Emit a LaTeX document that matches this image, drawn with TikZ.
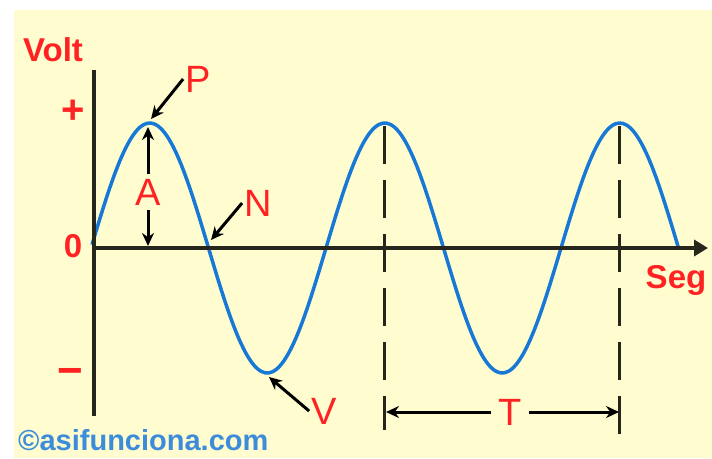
\documentclass[tikz,border=0pt]{standalone}
\usepackage{fontspec}
\setmainfont{Liberation Sans}
\usetikzlibrary{arrows.meta}

\definecolor{paper}{HTML}{FFFDD0}
\definecolor{axisgray}{HTML}{26261C}
\definecolor{waveblue}{HTML}{1778D6}
\definecolor{signred}{HTML}{FF2222}
\definecolor{creditblue}{HTML}{3C8CDB}

\begin{document}
\begin{tikzpicture}[
    x=1pt,
    y=-1pt,
    axis/.style={
        line width=4pt,
        draw=axisgray
    },
    wave/.style={
        line width=3.5pt,
        draw=waveblue
    },
    guide/.style={
        line width=3pt,
        draw=axisgray,
        dash pattern=on 38pt off 16pt
    },
    pointer/.style={
        -{Stealth[length=13pt,width=12pt]},
        line width=3pt,
        draw=black
    },
    redlabel/.style={
        text=signred,
        font=\fontsize{38}{38}\selectfont,
        inner sep=2pt
    },
    boldlabel/.style={
        text=signred,
        font=\fontsize{33}{33}\selectfont\bfseries,
        inner sep=1pt
    },
    credit/.style={
        text=creditblue,
        font=\fontsize{29}{29}\selectfont\bfseries,
        inner sep=0pt
    }
]

\useasboundingbox (0,0) rectangle (712,458);
\fill[paper] (14,10) rectangle (712,458);

% signal
\draw[wave] plot[domain=92:678, samples=160, smooth]
    (\x, {248-125*sin((\x-91)/235*360)});

% axes
\coordinate (origin) at (94,248);
\coordinate (ytop) at (94,70);
\coordinate (ybot) at (94,416);
\coordinate (xend) at (708,248);

\draw[axis] (ytop) -- (ybot);
\draw[axis, -{Triangle[length=14pt,width=16pt]}] (origin) -- (xend);

% period guides
\coordinate (peakb) at (384,126);
\coordinate (peakc) at (619,126);
\coordinate (footb) at (384,430);
\coordinate (footc) at (619,440);

\draw[guide] (peakb) -- (footb);
\draw[guide] (peakc) -- (footc);

% axis labels
\node[boldlabel] (volt) at (53,50) {Volt};
\node[boldlabel, font=\fontsize{40}{40}\selectfont\bfseries] (plus) at (73,112) {+};
\node[boldlabel] (zero) at (73,246) {0};
\node[boldlabel, font=\fontsize{44}{44}\selectfont\bfseries] (minus) at (70,377) {−};
\node[boldlabel] (seg) at (676,280) {Seg};

% peak, node, valley
\coordinate (ptip) at (151,119);
\coordinate (ntip) at (211,240);
\coordinate (vtip) at (269,377);

\node[redlabel] (peak) at (198,79) {P};
\node[redlabel] (cross) at (258,203) {N};
\node[redlabel] (valley) at (324,411) {V};

\draw[pointer] (peak.west) -- (ptip);
\draw[pointer] (cross.west) -- (ntip);
\draw[pointer] (valley.west) -- (vtip);

% amplitude
\coordinate (atop) at (148,127);
\coordinate (abot) at (148,246);
\node[redlabel, inner sep=5pt] (amp) at (148,192) {A};
\draw[pointer] (amp) -- (atop);
\draw[pointer] (amp) -- (abot);

% period
\coordinate (tleft) at (386,412);
\coordinate (tright) at (619,412);
\node[redlabel, inner sep=7pt] (period) at (510,412) {T};
\draw[pointer] (period) -- (tleft);
\draw[pointer] (period) -- (tright);

\node[credit, anchor=base west] (site) at (18,450) {©asifunciona.com};

\end{tikzpicture}
\end{document}
